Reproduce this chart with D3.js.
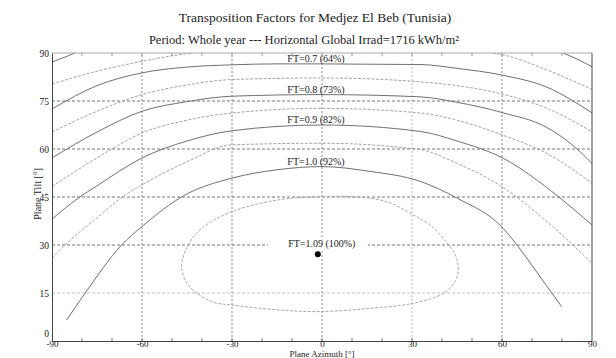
<!DOCTYPE html>
<html>
<head>
<meta charset="utf-8">
<script src="https://cdn.jsdelivr.net/npm/d3@7"></script>
<style>
  body { margin: 0; background: #fff; }
  text { font-family: "Liberation Serif", "Times New Roman", serif; fill: #222; }
</style>
</head>
<body>
<div class="container"></div>
<script>
const width = 616;
const height = 358;

// contour lines, as [azimuth, tilt]
const ft060 = [
    [[-90, 87.2], [-86, 88.6], [-82.3, 90]],
    [[80.4, 90], [85, 88.1], [90, 85.7]]
];
const ft065 = [
    [[-90, 80.3], [-75, 84.3], [-60, 87.4], [-48, 89.4], [-43, 90]],
    [[57, 90], [60.4, 89.4], [75, 84.7], [90, 78.6]]
];
const ft070 = [[-90, 72.5], [-75, 79.8], [-60, 83.8], [-45, 85.6], [-30, 86.3], [-15, 86.6], [0, 86.6],
    [15, 86.5], [32.7, 86.4], [45, 85.2], [60, 83.1], [75, 79.3], [90, 71.3]];
const ft075 = [[-90, 65.3], [-75, 71.8], [-60, 77], [-45, 80], [-30, 81.7], [0, 82.2],
    [32.7, 81], [45, 79.8], [60, 77.2], [75, 72.7], [90, 65.4]];
const ft080 = [[-90, 57.2], [-75, 65.3], [-60, 71.8], [-45, 74.8], [-30, 76.5], [0, 77],
    [32.7, 76.3], [45, 74.6], [60, 71.4], [75, 66.7], [83, 61.6], [90, 55.5]];
const ft085 = [[-90, 48.3], [-75, 57.2], [-60, 65], [-45, 69], [-30, 71.25], [0, 72.7],
    [32.7, 71.25], [45, 69], [60, 64.4], [75, 58.6], [90, 49.3]];
const ft090 = [[-90, 38.1], [-81.2, 44.7], [-75, 48.5], [-60, 57.2], [-45, 62.5], [-30, 65.7], [0, 67.5],
    [32.7, 65.5], [45, 62.5], [60.4, 57.1], [78.8, 45.1], [90, 36.25]];
const ft095 = [[-90, 26], [-85.7, 30], [-75, 38.5], [-65.7, 45.6], [-60, 48.8], [-45, 56], [-30, 61.3], [0, 61.8],
    [32.7, 59.8], [45, 55.5], [60, 48.2], [75, 37.3], [90, 24.3]];
const ft100 = [[-85.1, 6.6], [-79, 14.9], [-66.8, 30], [-60.1, 35.7], [-45.7, 45.6], [-30, 50.9],
    [-15, 53.5], [0, 54.5], [16, 53], [32.7, 49.9], [44.9, 44.7], [60.4, 35.2], [65.4, 29.5], [72, 21], [79.9, 10.7]];
const ft105 = [[-0.1, 45.1], [10.4, 45.1], [21.6, 43.5], [30.4, 39.4], [36, 36.25], [40.4, 32.1], [44.9, 25.8],
    [44.9, 19.6], [40.4, 14.9], [30.4, 11.8], [16, 10.2], [-0.5, 9.2], [-14.6, 9.7], [-30.1, 11.25],
    [-36.8, 12.3], [-44.6, 17.5], [-46.8, 23.2], [-44.6, 30], [-40.1, 35.2], [-30.1, 40.4], [-14.6, 44.1]];

const darkLines = [...ft060, ft070, ft080, ft090, ft100];
const lightLines = [...ft065, ft075, ft085, ft095];

const labelLevels = ['0.7', '0.8', '0.9', '1.0'];
const labelPct = [64, 73, 82, 92];
const labelCurves = [ft070, ft080, ft090, ft100];

const optimum = { az: -1.4, tilt: 27.1, ft: '1.09', pct: 100 };

const xTicks = [-90, -60, -30, 0, 30, 60, 90];
const yTicks = [0, 15, 30, 45, 60, 75, 90];
const xMinor = d3.range(-80, 90, 10);

const x = d3.scaleLinear().domain([-90, 90]).range([52, 592]);
const y = d3.scaleLinear().domain([0, 90]).range([341, 53]);

const svg = d3.select('.container')
    .append('svg')
    .attr('width', width)
    .attr('height', height);

svg.append('text')
    .attr('x', 315).attr('y', 22)
    .attr('text-anchor', 'middle')
    .style('font-size', '13.5px')
    .text('Transposition Factors for Medjez El Beb (Tunisia)');

svg.append('text')
    .attr('x', 304).attr('y', 44)
    .attr('text-anchor', 'middle')
    .style('font-size', '12.5px')
    .text('Period: Whole year --- Horizontal Global Irrad=1716 kWh/m²');

svg.append('clipPath').attr('id', 'plot')
    .append('rect')
    .attr('x', x(-90)).attr('y', y(90))
    .attr('width', x(90) - x(-90)).attr('height', y(0) - y(90));

// grid
const grid = svg.append('g');
grid.selectAll('.gx')
    .data(xTicks.slice(1, -1))
    .enter().append('line')
    .attr('x1', d => x(d)).attr('x2', d => x(d))
    .attr('y1', y(0)).attr('y2', y(90))
    .attr('stroke', d => d === 30 ? '#bbb' : '#888')
    .attr('stroke-dasharray', '2,2');
grid.selectAll('.gy')
    .data(yTicks.slice(1, -1))
    .enter().append('line')
    .attr('x1', x(-90)).attr('x2', x(90))
    .attr('y1', d => y(d)).attr('y2', d => y(d))
    .attr('stroke', d => d === 15 ? '#c4c4c4' : '#777')
    .attr('stroke-dasharray', '3,2');

const line = d3.line()
    .x(d => x(d[0]))
    .y(d => y(d[1]))
    .curve(d3.curveMonotoneX);

const lines = svg.append('g').attr('clip-path', 'url(#plot)');

lines.selectAll('.light')
    .data(lightLines)
    .enter().append('path')
    .attr('d', line)
    .attr('fill', 'none')
    .attr('stroke', '#a4a4a4')
    .attr('stroke-dasharray', '3,1.5');

lines.selectAll('.dark')
    .data(darkLines)
    .enter().append('path')
    .attr('d', line)
    .attr('fill', 'none')
    .attr('stroke', '#707070');

lines.append('path')
    .datum(ft105)
    .attr('d', d3.line().x(d => x(d[0])).y(d => y(d[1])).curve(d3.curveCatmullRomClosed.alpha(0.5)))
    .attr('fill', 'none')
    .attr('stroke', '#aaa')
    .attr('stroke-dasharray', '3,1.5');

// contour labels, placed on each curve just left of the centre
const labelAz = -2;
function tiltAt(curve, az) {
    const i = d3.bisector(d => d[0]).left(curve, az);
    const a = curve[i - 1], b = curve[i];
    return a[1] + (b[1] - a[1]) * (az - a[0]) / (b[0] - a[0]);
}

const labels = svg.append('g').style('font-size', '10px');
labelLevels.forEach((lv, i) => {
    const ty = y(tiltAt(labelCurves[i], labelAz)) - 2;
    labels.append('text')
        .attr('x', x(labelAz)).attr('y', ty)
        .attr('text-anchor', 'middle')
        .text(`FT=${lv} (${labelPct[i]}%)`);
});

// optimum
labels.append('rect')
    .attr('x', x(optimum.az) - 50).attr('y', y(optimum.tilt) - 15)
    .attr('width', 100).attr('height', 12)
    .attr('fill', '#fff');
labels.append('text')
    .attr('x', x(optimum.az) + 4).attr('y', y(optimum.tilt) - 7)
    .attr('text-anchor', 'middle')
    .text(`FT=${optimum.ft} (${optimum.pct}%)`);
svg.append('circle')
    .attr('cx', x(optimum.az)).attr('cy', y(optimum.tilt))
    .attr('r', 3)
    .attr('fill', '#000');

// frame
svg.append('line')
    .attr('x1', x(-90)).attr('x2', x(90)).attr('y1', y(90)).attr('y2', y(90))
    .attr('stroke', '#aaa');
svg.append('line')
    .attr('x1', x(90)).attr('x2', x(90)).attr('y1', y(90)).attr('y2', y(0))
    .attr('stroke', '#444');

const xAxis = svg.append('g')
    .attr('transform', `translate(0,${y(0)})`)
    .call(d3.axisBottom(x).tickValues(xTicks).tickSize(0).tickPadding(0).tickFormat(d3.format('d')));
const yAxis = svg.append('g')
    .attr('transform', `translate(${x(-90)},0)`)
    .call(d3.axisLeft(y).tickValues(yTicks).tickSize(0).tickPadding(3));
[xAxis, yAxis].forEach(g => {
    g.select('.domain').attr('stroke', '#444');
    g.selectAll('text')
        .style('font-family', '"Liberation Serif", serif')
        .style('font-size', '9.5px')
        .attr('fill', '#222');
});
xAxis.selectAll('text')
    .style('font-size', '9px')
    .attr('dy', '0.62em')
    .text(d => d < 0 ? '-' + Math.abs(d) : d);
yAxis.selectAll('text').filter(d => d === 0).attr('dy', '0').attr('y', -5);

// minor ticks
svg.append('g').selectAll('line')
    .data(xMinor)
    .enter().append('line')
    .attr('x1', d => x(d)).attr('x2', d => x(d))
    .attr('y1', y(0)).attr('y2', y(0) - 3)
    .attr('stroke', '#777');
svg.append('g').selectAll('line')
    .data(xMinor)
    .enter().append('line')
    .attr('x1', d => x(d)).attr('x2', d => x(d))
    .attr('y1', y(90)).attr('y2', y(90) + 3)
    .attr('stroke', '#999');

svg.append('text')
    .attr('x', x(0)).attr('y', 356.8)
    .attr('text-anchor', 'middle')
    .style('font-size', '9px')
    .text('Plane Azimuth [°]');

svg.append('text')
    .attr('transform', `translate(41,${y(46)}) rotate(-90)`)
    .attr('text-anchor', 'middle')
    .style('font-size', '10px')
    .text('Plane Tilt [°]');
</script>
</body>
</html>
